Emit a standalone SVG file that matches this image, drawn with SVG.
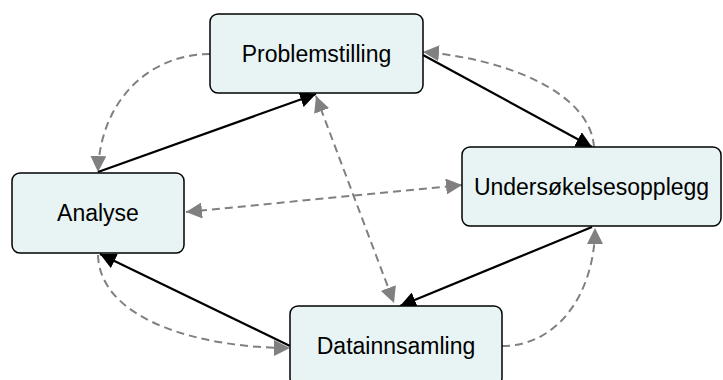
<svg xmlns="http://www.w3.org/2000/svg" width="723" height="380" viewBox="0 0 723 380">
  <style>
    .box { fill: #e8f4f4; stroke: #000; stroke-width: 1.5; }
    .lbl { font-family: "Liberation Sans", Arial, sans-serif; font-size: 23px; fill: #000; text-anchor: middle; }
    .solid { fill: none; stroke: #000; stroke-width: 2.2; }
    .dash { fill: none; stroke: #808080; stroke-width: 2; stroke-dasharray: 8 5; }
  </style>
  <defs>
    <marker id="ab" markerUnits="userSpaceOnUse" markerWidth="17" markerHeight="16" refX="16" refY="8" orient="auto">
      <path d="M0,0 L16,8 L0,16 Z" fill="#000"/>
    </marker>
    <marker id="ag" markerUnits="userSpaceOnUse" markerWidth="17" markerHeight="16" refX="16" refY="8" orient="auto-start-reverse">
      <path d="M0,0 L16,8 L0,16 Z" fill="#808080"/>
    </marker>
  </defs>
  <g id="connectors">
    <path class="dash" d="M210,54 C150,54 100,100 98,172" marker-end="url(#ag)"/>
    <path class="dash" d="M594,147 C590,90 500,58 423,52" marker-end="url(#ag)"/>
    <path class="dash" d="M502,346 C560,346 595,290 595,228" marker-end="url(#ag)"/>
    <path class="dash" d="M98,255 C100,320 200,348 290,348" marker-end="url(#ag)"/>
    <path class="dash" d="M186,212 L462,185" marker-start="url(#ag)" marker-end="url(#ag)"/>
    <path class="dash" d="M316,96 L394,303" marker-start="url(#ag)" marker-end="url(#ag)"/>
    <path class="solid" d="M98,172 L316,94" marker-end="url(#ab)"/>
    <path class="solid" d="M423,55 L592,147" marker-end="url(#ab)"/>
    <path class="solid" d="M592,227 L400,306" marker-end="url(#ab)"/>
    <path class="solid" d="M290,346 L100,254" marker-end="url(#ab)"/>
  </g>
  <g id="problemstilling">
    <rect class="box" x="210" y="14" width="213" height="79" rx="8"/>
    <text class="lbl" x="316.5" y="62">Problemstilling</text>
  </g>
  <g id="undersokelsesopplegg">
    <rect class="box" x="462" y="147" width="259" height="79" rx="8"/>
    <text class="lbl" x="591.5" y="195">Undersøkelsesopplegg</text>
  </g>
  <g id="analyse">
    <rect class="box" x="12" y="173" width="172" height="80" rx="8"/>
    <text class="lbl" x="98" y="221">Analyse</text>
  </g>
  <g id="datainnsamling">
    <rect class="box" x="290" y="306" width="212" height="80" rx="8"/>
    <text class="lbl" x="396" y="354">Datainnsamling</text>
  </g>
</svg>
